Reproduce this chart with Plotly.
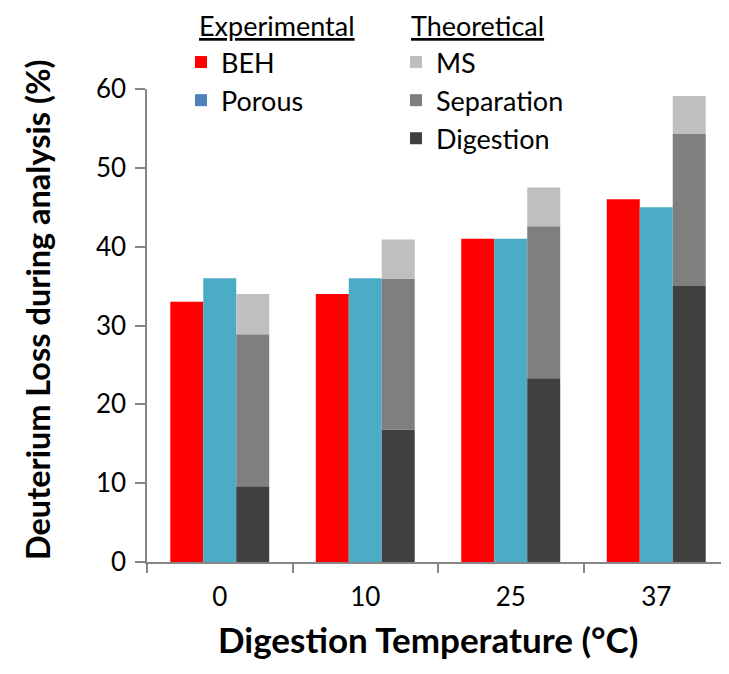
import plotly.graph_objects as go

categories = ["0", "10", "25", "37"]
beh = [33.0, 34.0, 41.0, 46.0]
porous = [36.0, 36.0, 41.0, 45.0]
digestion = [9.6, 16.8, 23.3, 35.0]
separation = [19.3, 19.1, 19.3, 19.3]
ms = [5.1, 5.0, 4.9, 4.8]
y_ticks = [0, 10, 20, 30, 40, 50, 60]

sep_base = list(digestion)
ms_base = [d + s for d, s in zip(digestion, separation)]

FONT = "Lato"
fig = go.Figure()

fig.add_bar(x=categories, y=beh, name="BEH", marker=dict(color="#FF0000", line=dict(width=0)),
            offsetgroup="1", legend="legend")
fig.add_bar(x=categories, y=porous, name="Porous", marker=dict(color="#4BACC6", line=dict(width=0)),
            offsetgroup="2", showlegend=False)
# legend key for Porous (the original legend key uses a different blue)
fig.add_bar(x=categories, y=[None] * len(categories), name="Porous",
            marker=dict(color="#4F81BD", line=dict(width=0)), offsetgroup="2", legend="legend")

fig.add_bar(x=categories, y=digestion, name="Digestion", marker=dict(color="#404040", line=dict(width=0)),
            offsetgroup="3", legend="legend2", legendrank=3)
fig.add_bar(x=categories, y=separation, base=sep_base, name="Separation",
            marker=dict(color="#7F7F7F", line=dict(width=0)), offsetgroup="3", legend="legend2", legendrank=2)
fig.add_bar(x=categories, y=ms, base=ms_base, name="MS", marker=dict(color="#BFBFBF", line=dict(width=0)),
            offsetgroup="3", legend="legend2", legendrank=1)

axis_gray = "#868686"
LEG_FONT = dict(family=FONT, size=27, color="black")
fig.update_layout(
    width=721, height=666,
    margin=dict(l=139, r=0, t=81, b=112, autoexpand=False),
    paper_bgcolor="white", plot_bgcolor="white",
    barmode="group", bargap=0.32, bargroupgap=0,
    font=dict(family=FONT, size=26, color="black"),
    legend=dict(
        x=173 / 721, y=1 - 30 / 666, xref="container", yref="container", xanchor="left", yanchor="top",
        bgcolor="rgba(0,0,0,0)", traceorder="normal", itemwidth=30,
        font=LEG_FONT, tracegroupgap=0,
    ),
    legend2=dict(
        x=388 / 721, y=1 - 30 / 666, xref="container", yref="container", xanchor="left", yanchor="top",
        bgcolor="rgba(0,0,0,0)", traceorder="normal", itemwidth=30,
        font=LEG_FONT, tracegroupgap=0,
    ),
    xaxis=dict(
        type="category", range=[-0.5, 3.5], automargin=False,
        showline=True, linecolor=axis_gray, linewidth=1.5,
        ticks="outside", tickson="boundaries", ticklen=9, tickcolor=axis_gray, tickwidth=1.5,
        tickfont=dict(family=FONT, size=26), tickangle=0, ticklabelstandoff=11,
        showgrid=False, zeroline=False,
    ),
    yaxis=dict(
        range=[0, 60], tickvals=y_ticks, automargin=False,
        showline=True, linecolor=axis_gray, linewidth=1.5,
        ticks="outside", ticklen=10, tickcolor=axis_gray, tickwidth=1.5,
        tickfont=dict(family=FONT, size=26), ticklabelstandoff=4,
        showgrid=False, zeroline=False,
    ),
    annotations=[
        dict(text="<u>Experimental</u>", x=(189 - 139) / 582, y=1 + (81 - 17) / 473,
             xref="paper", yref="paper", xanchor="left", yanchor="middle", showarrow=False,
             font=LEG_FONT),
        dict(text="<u>Theoretical</u>", x=(401 - 139) / 582, y=1 + (81 - 17) / 473,
             xref="paper", yref="paper", xanchor="left", yanchor="middle", showarrow=False,
             font=LEG_FONT),
        dict(text="<b>Digestion Temperature (°C)</b>", x=(420 - 139) / 582, y=-(631 - 554) / 473,
             xref="paper", yref="paper", xanchor="center", yanchor="middle", showarrow=False,
             font=dict(family=FONT, size=35, color="black")),
        dict(text="<b>Deuterium Loss during analysis (%)</b>", x=(29 - 139) / 582, y=1 - (302 - 81) / 473,
             xref="paper", yref="paper", xanchor="center", yanchor="middle", showarrow=False,
             textangle=-90, font=dict(family=FONT, size=32.5, color="black")),
    ],
)

fig.write_html("out.html")
